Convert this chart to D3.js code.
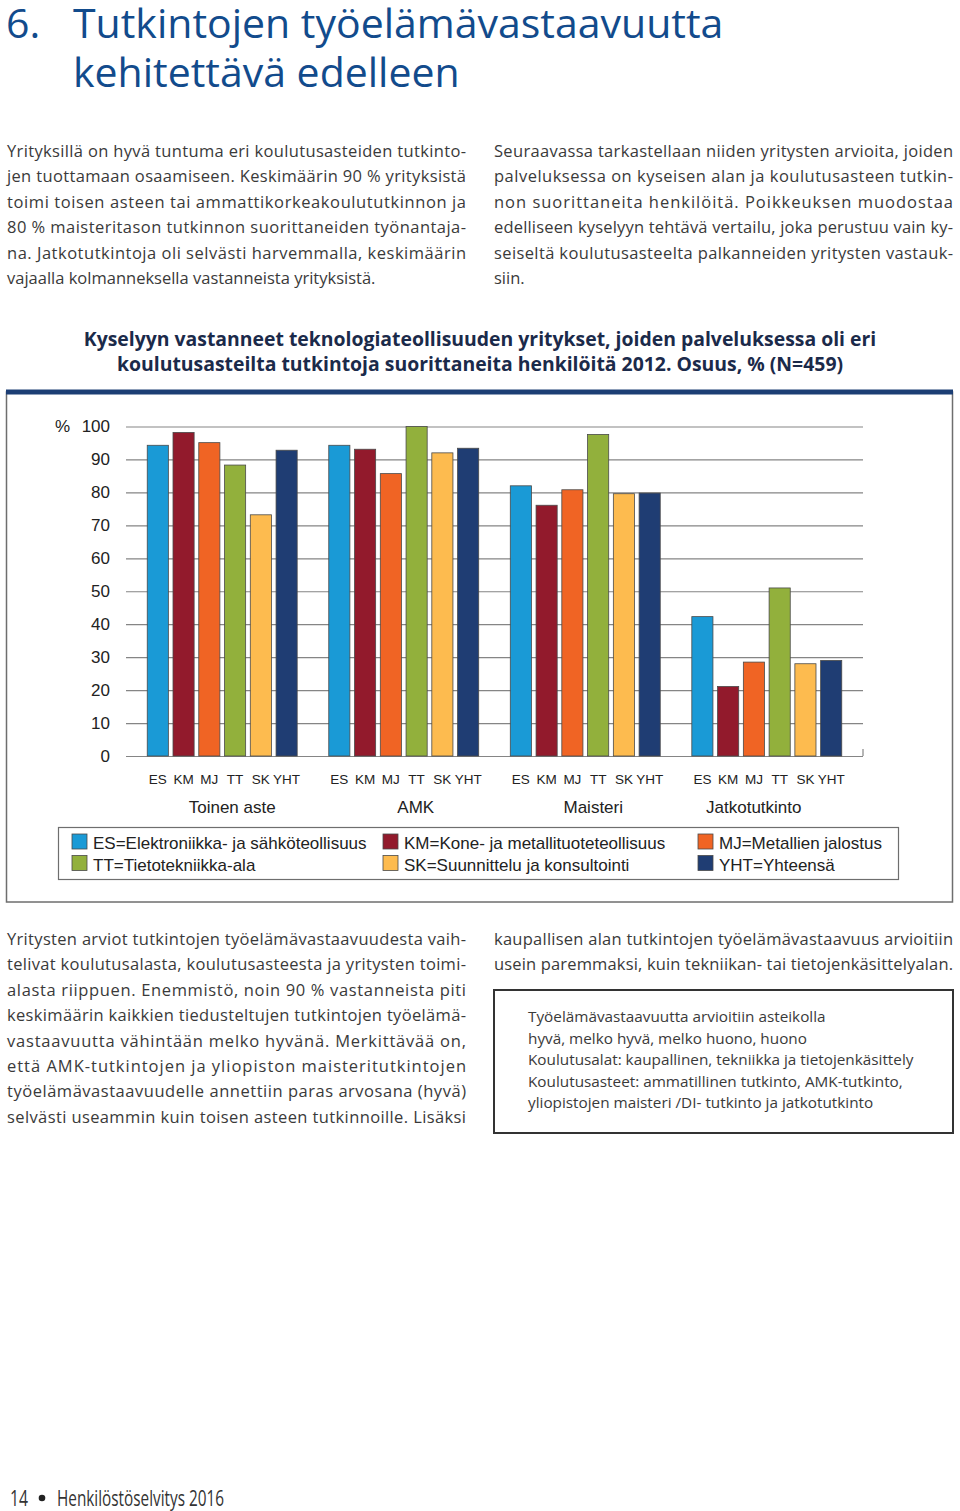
<!DOCTYPE html>
<html>
<head>
<meta charset="utf-8">
<script src="https://cdn.jsdelivr.net/npm/d3@7"></script>
<style>
body { margin: 0; background: #fff; }
svg { display: block; }
.body-text { font-family: "Open Sans", sans-serif; font-size: 16.5px; fill: #3a3a3a; }
.chart-font { font-family: "Liberation Sans", Arial, sans-serif; }
</style>
</head>
<body>
<div class="page"></div>
<script>

// ----Data----
const groups = ["Toinen aste", "AMK", "Maisteri", "Jatkotutkinto"];
const seriesKeys = ["ES", "KM", "MJ", "TT", "SK", "YHT"];
const seriesNames = [
  "ES=Elektroniikka- ja sähköteollisuus",
  "KM=Kone- ja metallituoteteollisuus",
  "MJ=Metallien jalostus",
  "TT=Tietotekniikka-ala",
  "SK=Suunnittelu ja konsultointi",
  "YHT=Yhteensä"
];
const colors = ["#1a9ad6", "#921a2c", "#f06424", "#92b03c", "#fdbb4f", "#1f3d73"];

const ES  = [94.3, 94.3, 82.0, 42.3];
const KM  = [98.2, 93.1, 76.1, 21.1];
const MJ  = [95.1, 85.7, 80.8, 28.5];
const TT  = [88.3, 100.0, 97.6, 51.0];
const SK  = [73.2, 92.0, 79.6, 28.0];
const YHT = [92.8, 93.4, 79.8, 29.0];
const seriesValues = [ES, KM, MJ, TT, SK, YHT];

const yTicks = [0, 10, 20, 30, 40, 50, 60, 70, 80, 90, 100];

const chartTitle = [
  "Kyselyyn vastanneet teknologiateollisuuden yritykset, joiden palveluksessa oli eri",
  "koulutusasteilta tutkintoja suorittaneita henkilöitä 2012. Osuus, % (N=459)"
];

// text lines: [text, justified]
const introLeft = [
  ["Yrityksillä on hyvä tuntuma eri koulutusasteiden tutkinto-", true],
  ["jen tuottamaan osaamiseen. Keskimäärin 90 % yrityksistä", true],
  ["toimi toisen asteen tai ammattikorkeakoulututkinnon ja", true],
  ["80 % maisteritason tutkinnon suorittaneiden työnantaja-", true],
  ["na. Jatkotutkintoja oli selvästi harvemmalla, keskimäärin", true],
  ["vajaalla kolmanneksella vastanneista yrityksistä.", false]
];
const introRight = [
  ["Seuraavassa tarkastellaan niiden yritysten arvioita, joiden", true],
  ["palveluksessa on kyseisen alan ja koulutusasteen tutkin-", true],
  ["non suorittaneita henkilöitä. Poikkeuksen muodostaa", true],
  ["edelliseen kyselyyn tehtävä vertailu, joka perustuu vain ky-", true],
  ["seiseltä koulutusasteelta palkanneiden yritysten vastauk-", true],
  ["siin.", false]
];
const outroLeft = [
  ["Yritysten arviot tutkintojen työelämävastaavuudesta vaih-", true],
  ["telivat koulutusalasta, koulutusasteesta ja yritysten toimi-", true],
  ["alasta riippuen. Enemmistö, noin 90 % vastanneista piti", true],
  ["keskimäärin kaikkien tiedusteltujen tutkintojen työelämä-", true],
  ["vastaavuutta vähintään melko hyvänä. Merkittävää on,", true],
  ["että AMK-tutkintojen ja yliopiston maisteritutkintojen", true],
  ["työelämävastaavuudelle annettiin paras arvosana (hyvä)", true],
  ["selvästi useammin kuin toisen asteen tutkinnoille. Lisäksi", true]
];
const outroRight = [
  ["kaupallisen alan tutkintojen työelämävastaavuus arvioitiin", true],
  ["usein paremmaksi, kuin tekniikan- tai tietojenkäsittelyalan.", true]
];
const boxLines = [
  "Työelämävastaavuutta arvioitiin asteikolla",
  "hyvä, melko hyvä, melko huono, huono",
  "Koulutusalat: kaupallinen, tekniikka ja tietojenkäsittely",
  "Koulutusasteet: ammatillinen tutkinto, AMK-tutkinto,",
  "yliopistojen maisteri /DI- tutkinto ja jatkotutkinto"
];

// ----Page----
const svg = d3.select(".page").append("svg")
  .attr("width", 960)
  .attr("height", 1511);

// heading
const heading = svg.append("g")
  .attr("font-family", "'Open Sans', sans-serif")
  .attr("font-size", 41)
  .attr("fill", "#124b8c");
heading.append("text").attr("x", 6).attr("y", 38).text("6.");
heading.append("text").attr("x", 73).attr("y", 38).text("Tutkintojen työelämävastaavuutta");
heading.append("text").attr("x", 73).attr("y", 87).text("kehitettävä edelleen");

function paragraph(lines, x, y0, w) {
  const g = svg.append("g").attr("class", "body-text");
  g.selectAll("text")
    .data(lines)
    .join("text")
    .attr("x", x)
    .attr("y", (d, i) => y0 + i * 25.4)
    .each(function(d) {
      if (d[1]) d3.select(this).attr("textLength", w).attr("lengthAdjust", "spacing");
    })
    .text(d => d[0]);
}

paragraph(introLeft, 7, 157, 459);
paragraph(introRight, 494, 157, 459);
paragraph(outroLeft, 7, 945, 459);
paragraph(outroRight, 494, 945, 459);

// info box
svg.append("rect")
  .attr("x", 494).attr("y", 990)
  .attr("width", 459).attr("height", 143)
  .attr("fill", "none").attr("stroke", "#333").attr("stroke-width", 2);
svg.append("g")
  .attr("class", "body-text")
  .style("font-size", "15.3px")
  .selectAll("text")
  .data(boxLines)
  .join("text")
  .attr("x", 528)
  .attr("y", (d, i) => 1022 + i * 21.5)
  .text(d => d);

// footer
const footer = svg.append("g")
  .attr("font-family", "'Open Sans', sans-serif")
  .attr("font-size", 21)
  .attr("fill", "#333");
footer.append("text")
  .attr("x", 10).attr("y", 1506)
  .attr("textLength", 18)
  .attr("lengthAdjust", "spacingAndGlyphs")
  .text("14");
footer.append("circle")
  .attr("cx", 42).attr("cy", 1498).attr("r", 3.3)
  .attr("fill", "#222");
footer.append("text")
  .attr("x", 57).attr("y", 1506)
  .attr("textLength", 167)
  .attr("lengthAdjust", "spacingAndGlyphs")
  .text("Henkilöstöselvitys 2016");

// chart title
svg.append("g")
  .attr("font-family", "'Open Sans', sans-serif")
  .attr("font-weight", "bold")
  .attr("font-size", 19.4)
  .attr("fill", "#1b2a4a")
  .attr("text-anchor", "middle")
  .selectAll("text")
  .data(chartTitle)
  .join("text")
  .attr("x", 480)
  .attr("y", (d, i) => 346 + i * 25)
  .text(d => d);

// chart frame
svg.append("rect")
  .attr("x", 6.5).attr("y", 392)
  .attr("width", 946).attr("height", 510)
  .attr("fill", "none").attr("stroke", "#6e6e6e").attr("stroke-width", 1.5);
svg.append("rect")
  .attr("x", 6).attr("y", 389.5)
  .attr("width", 947).attr("height", 5)
  .attr("fill", "#1c3e74");

// ----Chart----
const plot = { left: 126, right: 863, top: 426.5, bottom: 756 };

const yScale = d3.scaleLinear()
  .domain([0, 100])
  .range([plot.bottom, plot.top]);

const x0 = d3.scaleBand()
  .domain(groups)
  .range([plot.left, plot.right])
  .paddingInner(0.174)
  .paddingOuter(0.117);

const x1 = d3.scaleBand()
  .domain(seriesKeys)
  .range([0, x0.bandwidth()])
  .paddingInner(0.18);

const color = d3.scaleOrdinal().domain(seriesKeys).range(colors);

const chart = svg.append("g").attr("class", "chart-font");

const yAxis = d3.axisLeft(yScale)
  .tickValues(yTicks)
  .tickSize(-(plot.right - plot.left))
  .tickPadding(16)
  .tickFormat(d3.format("d"));

chart.append("g")
  .attr("transform", `translate(${plot.left},0)`)
  .call(yAxis)
  .call(g => g.select(".domain").remove())
  .call(g => g.selectAll(".tick line").attr("stroke", "#858585").attr("stroke-width", 1.2))
  .call(g => g.selectAll(".tick text")
    .attr("font-family", "'Liberation Sans', Arial, sans-serif")
    .attr("font-size", 17).attr("fill", "#222"));

chart.append("text")
  .attr("x", 55).attr("y", 432)
  .attr("font-size", 17).attr("fill", "#222")
  .text("%");

// right end tick
chart.append("line")
  .attr("x1", plot.right).attr("x2", plot.right)
  .attr("y1", plot.bottom - 7).attr("y2", plot.bottom)
  .attr("stroke", "#858585").attr("stroke-width", 1.2);

const barData = [];
groups.forEach((g, gi) => {
  seriesKeys.forEach((k, si) => {
    barData.push({ group: g, key: k, value: seriesValues[si][gi] });
  });
});

chart.selectAll(".bar")
  .data(barData)
  .join("rect")
  .attr("class", "bar")
  .attr("x", d => x0(d.group) + x1(d.key))
  .attr("y", d => yScale(d.value))
  .attr("width", x1.bandwidth())
  .attr("height", d => yScale(0) - yScale(d.value))
  .attr("fill", d => color(d.key))
  .attr("stroke", "#4a4a4a")
  .attr("stroke-width", 0.8);

// category labels
chart.selectAll(".cat")
  .data(barData)
  .join("text")
  .attr("class", "cat")
  .attr("x", d => x0(d.group) + x1(d.key) + x1.bandwidth() / 2)
  .attr("y", 784)
  .attr("text-anchor", "middle")
  .attr("font-size", 13.5)
  .attr("fill", "#222")
  .text(d => d.key);

// group labels sit a little off-centre in the original
const groupNudge = [10, 12, 8, -13];
chart.selectAll(".grp")
  .data(groups)
  .join("text")
  .attr("class", "grp")
  .attr("x", (d, i) => x0(d) + x0.bandwidth() / 2 + groupNudge[i])
  .attr("y", 813)
  .attr("text-anchor", "middle")
  .attr("font-size", 17)
  .attr("fill", "#222")
  .text(d => d);

// legend
chart.append("rect")
  .attr("x", 58.5).attr("y", 827.5)
  .attr("width", 840).attr("height", 52)
  .attr("fill", "none").attr("stroke", "#6e6e6e").attr("stroke-width", 1.2);

const legendCols = [72, 383, 698];
const legend = chart.selectAll(".leg")
  .data(seriesKeys)
  .join("g")
  .attr("class", "leg")
  .attr("transform", (d, i) => `translate(${legendCols[i % 3]},${834 + Math.floor(i / 3) * 21.5})`);

legend.append("rect")
  .attr("width", 15).attr("height", 15)
  .attr("fill", d => color(d))
  .attr("stroke", "#4a4a4a").attr("stroke-width", 0.8);

legend.append("text")
  .attr("x", 21).attr("y", 15)
  .attr("font-size", 17)
  .attr("fill", "#222")
  .text((d, i) => seriesNames[i]);

</script>
</body>
</html>
